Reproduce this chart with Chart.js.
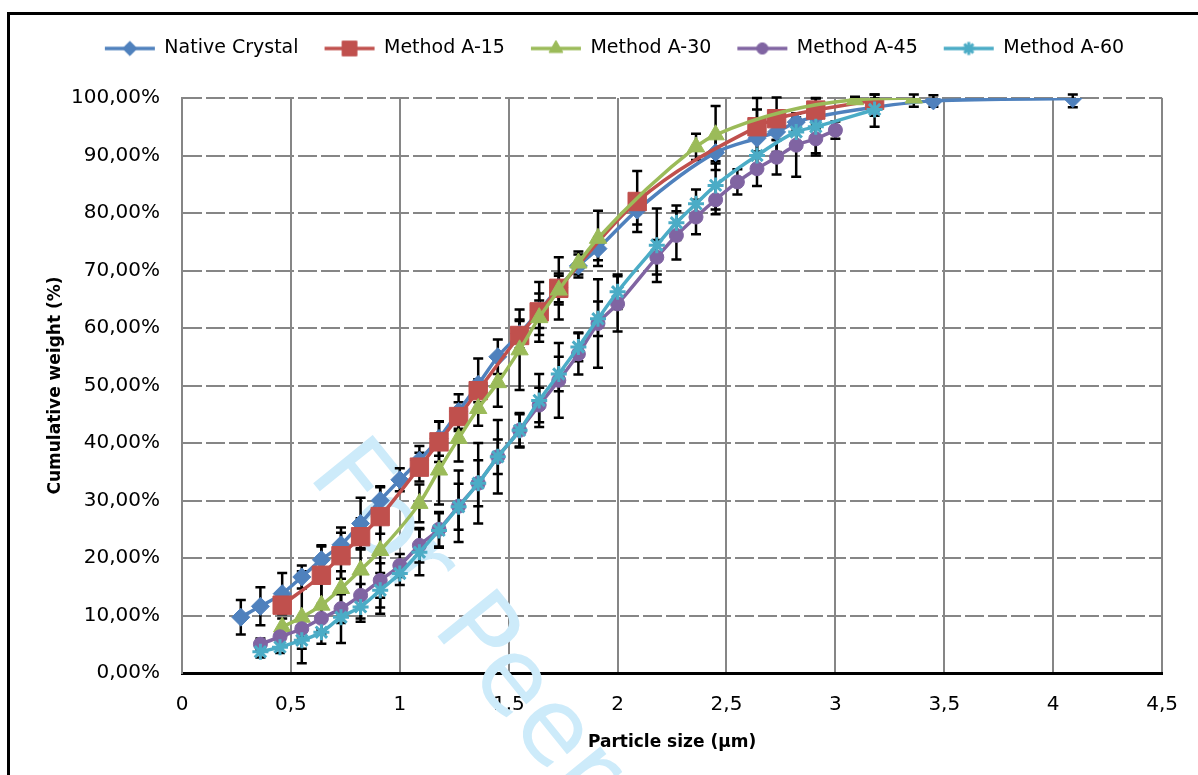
<!DOCTYPE html>
<html>
<head>
<meta charset="utf-8">
<script src="https://cdn.jsdelivr.net/npm/chart.js@4.4.0/dist/chart.umd.min.js"></script>
<style>
  body { margin: 0; background: #fff; overflow: hidden; width: 1198px; height: 775px; }
  #frame { position: absolute; left: 7px; top: 12px; width: 1200px; height: 800px; border: 3px solid #000; }
  #box { position: absolute; left: 10px; top: 15px; width: 1188px; height: 760px; }
</style>
</head>
<body>
<div id="frame"></div>
<div id="box"><canvas id="psd"></canvas></div>
<script>
// particle size (um), cumulative weight (%), error (+/- %)
const sizeNative = [0.27,0.36,0.46,0.55,0.64,0.73,0.82,0.91,1.00,1.09,1.18,1.27,1.36,1.45,1.55,1.64,1.73,1.82,1.91,2.09,2.45,2.64,2.73,2.82,2.91,3.18,3.45,4.09];
const cumNative  = [9.7,11.6,13.8,16.7,19.7,22.3,26.0,30.0,33.6,37.0,40.8,45.5,50.2,55.0,59.0,63.0,67.0,70.8,73.8,80.5,90.5,93.0,94.1,95.8,96.7,98.4,99.5,99.9];
const errNative  = [3.0,3.3,3.6,2.0,2.5,3.0,4.5,2.5,2.0,2.5,3.0,3.0,4.5,3.0,2.5,3.0,2.5,2.0,2.0,2.5,3.0,5.0,3.5,1.5,2.0,1.5,1.0,1.5];

const sizeA15 = [0.46,0.64,0.73,0.82,0.91,1.09,1.18,1.27,1.36,1.55,1.64,1.73,2.09,2.64,2.73,2.91,3.18];
const cumA15  = [11.8,17.0,20.4,23.7,27.2,35.8,40.2,44.6,49.1,58.7,62.8,66.9,82.0,95.0,96.4,97.9,99.6];
const errA15  = [1.5,5.0,4.0,2.0,3.0,2.5,3.5,2.5,2.0,2.5,5.2,5.4,5.3,5.0,3.7,2.0,1.0];

const sizeA30 = [0.46,0.55,0.64,0.73,0.82,0.91,1.09,1.18,1.27,1.36,1.45,1.55,1.64,1.73,1.82,1.91,2.36,2.45,3.09,3.36];
const cumA30  = [8.0,9.7,11.8,14.7,17.9,21.3,29.5,35.3,40.8,46.0,50.5,56.2,61.8,66.6,71.3,75.6,91.5,93.6,99.7,100];
const errA30  = [1.5,8.0,5.0,3.0,9.0,11.0,3.3,6.0,4.0,3.0,4.2,7.0,3.0,2.5,2.0,4.8,2.3,5.0,0.5,1.5];

const sizeA45 = [0.36,0.45,0.55,0.64,0.73,0.82,0.91,1.00,1.09,1.18,1.27,1.36,1.45,1.55,1.64,1.73,1.82,1.91,2.00,2.18,2.27,2.36,2.45,2.55,2.64,2.73,2.82,2.91,3.00];
const cumA45  = [5.0,6.3,7.7,9.5,11.2,13.5,16.1,18.7,22.2,25.0,29.0,33.0,37.6,42.2,46.6,50.9,55.5,60.8,64.2,72.3,76.1,79.3,82.3,85.4,87.7,89.7,91.8,92.9,94.4];
const errA45  = [1.0,1.0,1.5,2.0,2.5,2.0,3.0,2.0,3.0,3.0,6.2,4.0,6.4,3.0,3.0,6.5,3.6,7.7,4.8,3.0,4.2,3.0,2.5,2.2,3.0,3.0,5.5,2.5,1.5];

const sizeA60 = [0.36,0.45,0.55,0.64,0.73,0.82,0.91,1.00,1.09,1.18,1.27,1.36,1.45,1.55,1.64,1.73,1.82,1.91,2.00,2.18,2.27,2.36,2.45,2.64,2.82,2.91,3.18];
const cumA60  = [3.7,4.5,5.7,7.1,9.7,11.5,14.4,17.3,21.0,24.8,28.9,33.0,37.6,42.2,47.4,52.0,56.7,61.6,66.3,74.4,78.3,81.6,84.8,90.0,94.1,95.0,98.0];
const errA60  = [1.0,1.0,1.5,2.0,4.5,2.0,3.0,2.0,4.0,3.0,4.0,7.0,3.0,2.8,4.6,3.0,2.5,3.0,3.0,6.4,3.0,2.5,4.2,3.0,2.5,5.0,3.0];

const seriesNames = ['Native Crystal', 'Method A-15', 'Method A-30', 'Method A-45', 'Method A-60'];
const xTicks = [0, 0.5, 1, 1.5, 2, 2.5, 3, 3.5, 4, 4.5];

const colors = ['#4F81BD', '#C0504D', '#9BBB59', '#8064A2', '#4BACC6'];
const markers = ['rectRot', 'rect', 'triangle', 'circle', 'star'];
const markerSize = [9, 13, 10, 7, 8];

const sizes = [sizeNative, sizeA15, sizeA30, sizeA45, sizeA60];
const cums = [cumNative, cumA15, cumA30, cumA45, cumA60];
const errs = [errNative, errA15, errA30, errA45, errA60];

const toPoints = (xs, ys) => xs.map((x, i) => ({x: x, y: ys[i]}));

const datasets = seriesNames.map((name, k) => ({
    label: name,
    data: toPoints(sizes[k], cums[k]),
    errors: errs[k],
    borderColor: colors[k],
    backgroundColor: colors[k],
    borderWidth: 3.5,
    pointStyle: markers[k],
    pointRadius: markerSize[k],
    pointBorderWidth: k === 4 ? 3 : 1,
    cubicInterpolationMode: 'monotone',
    order: 5 - k,
}));

// legend icons: line with marker in the middle
function legendIcon(k) {
    const c = document.createElement('canvas');
    c.width = 52; c.height = 20;
    const ctx = c.getContext('2d');
    ctx.strokeStyle = colors[k];
    ctx.lineWidth = 3.5;
    ctx.beginPath(); ctx.moveTo(1, 10); ctx.lineTo(51, 10); ctx.stroke();
    ctx.fillStyle = colors[k];
    ctx.lineWidth = k === 4 ? 3 : 1;
    Chart.helpers.drawPoint(ctx, {pointStyle: markers[k], radius: markerSize[k] * 0.8, borderWidth: ctx.lineWidth}, 26, 10);
    return c;
}
const icons = seriesNames.map((n, k) => legendIcon(k));

const errorBars = {
    id: 'errorBars',
    beforeDatasetsDraw(chart) {
        const {ctx, scales: {x, y}} = chart;
        ctx.save();
        ctx.strokeStyle = '#000';
        ctx.lineWidth = 2.5;
        chart.data.datasets.forEach(ds => {
            ds.data.forEach((p, i) => {
                const e = ds.errors[i];
                const px = x.getPixelForValue(p.x);
                const top = y.getPixelForValue(Math.min(p.y + e, 100.6));
                const bot = y.getPixelForValue(p.y - e);
                ctx.beginPath();
                ctx.moveTo(px, top); ctx.lineTo(px, bot);
                ctx.moveTo(px - 5, top); ctx.lineTo(px + 5, top);
                ctx.moveTo(px - 5, bot); ctx.lineTo(px + 5, bot);
                ctx.stroke();
            });
        });
        ctx.restore();
    }
};

const watermark = {
    id: 'watermark',
    beforeDatasetsDraw(chart) {
        const ctx = chart.ctx;
        ctx.save();
        ctx.translate(318, 443);
        ctx.rotate(51 * Math.PI / 180);
        ctx.font = '105px "DejaVu Sans"';
        ctx.fillStyle = '#CDEBFA';
        ctx.fillText('For Peer Review', 0, 0);
        ctx.restore();
    }
};

const legendHeight = {
    id: 'legendHeight',
    beforeInit(chart) {
        const fit = chart.legend.fit;
        chart.legend.fit = function () {
            fit.bind(chart.legend)();
            this.height = 85;
        };
    }
};

new Chart(document.getElementById('psd'), {
    type: 'line',
    data: {datasets: datasets},
    plugins: [watermark, errorBars, legendHeight],
    options: {
        responsive: true,
        maintainAspectRatio: false,
        animation: false,
        layout: {padding: {top: -2, right: 33, bottom: 0, left: 54}},
        plugins: {
            tooltip: {enabled: false},
            legend: {
                position: 'top',
                labels: {
                    usePointStyle: true,
                    pointStyleWidth: 50,
                    boxHeight: 19,
                    padding: 26,
                    color: '#000',
                    font: {family: '"DejaVu Sans"', size: 19},
                    sort: (a, b) => a.datasetIndex - b.datasetIndex,
                    generateLabels: (chart) => chart.data.datasets.map((ds, i) => ({
                        text: ds.label,
                        pointStyle: icons[i],
                        datasetIndex: i,
                        fillStyle: ds.borderColor,
                        strokeStyle: ds.borderColor,
                        lineWidth: 0,
                        hidden: false,
                        fontColor: '#000',
                    })),
                },
            },
        },
        scales: {
            x: {
                type: 'linear',
                min: 0,
                max: 4.5,
                afterFit: (s) => { s.height = 102; },
                afterBuildTicks: (s) => { s.ticks = xTicks.map(v => ({value: v})); },
                grid: {color: '#868686', lineWidth: 2, drawTicks: false},
                border: {color: '#000', width: 3},
                ticks: {
                    padding: 20,
                    color: '#000',
                    font: {family: '"DejaVu Sans"', size: 20},
                    callback: (v) => String(v).replace('.', ','),
                },
                title: {
                    display: true,
                    text: 'Particle size (µm)',
                    color: '#000',
                    font: {family: '"DejaVu Sans"', size: 17, weight: 'bold'},
                    padding: {top: 0, bottom: 22},
                },
            },
            y: {
                min: 0,
                max: 100,
                afterFit: (s) => { s.width = 118; },
                grid: {color: '#868686', lineWidth: 2, drawTicks: false},
                border: {color: '#868686', width: 2, dash: [19, 4]},
                ticks: {
                    stepSize: 10,
                    padding: 22,
                    color: '#000',
                    font: {family: '"DejaVu Sans"', size: 20},
                    callback: (v) => v.toFixed(2).replace('.', ',') + '%',
                },
                title: {
                    display: true,
                    text: 'Cumulative weight (%)',
                    color: '#000',
                    font: {family: '"DejaVu Sans"', size: 17, weight: 'bold'},
                    padding: {top: -19, bottom: 0},
                },
            },
        },
    },
});
</script>
</body>
</html>
